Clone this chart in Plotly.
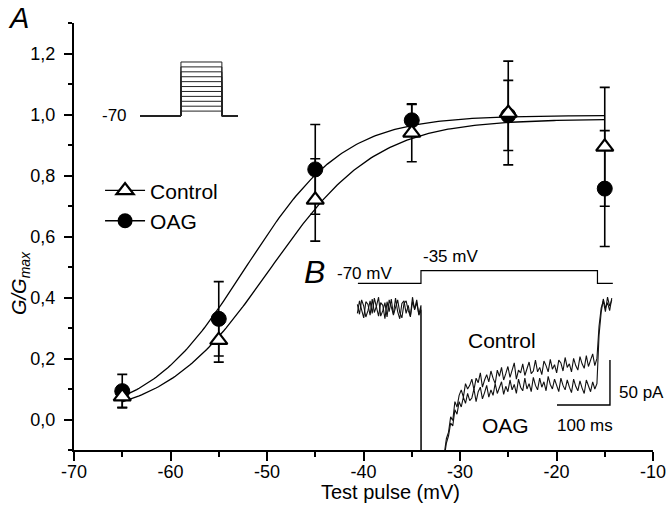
import numpy as np
import plotly.graph_objects as go

# ---------------- main panel A data ----------------
test_pulse = [-65, -55, -45, -35, -25, -15]
ctrl_g = [0.075, 0.26, 0.72, 0.94, 1.005, 0.894]
ctrl_err = [0.035, 0.072, 0.135, 0.095, 0.17, 0.195]
oag_g = [0.093, 0.33, 0.82, 0.981, 0.997, 0.757]
oag_err = [0.055, 0.122, 0.147, 0.052, 0.115, 0.19]

# Boltzmann fit parameters (V1/2 in mV, slope k in mV, Gmax)
ctrl_fit = dict(vhalf=-49.7, k=5.5, gmax=0.985)
oag_fit = dict(vhalf=-52.2, k=5.1, gmax=0.997)

x_ticks = [-70, -60, -50, -40, -30, -20, -10]
y_ticks = [0.0, 0.2, 0.4, 0.6, 0.8, 1.0, 1.2]

# ---------------- inset A: step protocol (mV) ----------------
holding_mv = -70
step_levels = [-65, -60, -55, -50, -45, -40, -35, -30, -25, -20, -15]
protoA_t = [-41, 0, 41, 57]  # pre start, pulse on, pulse off, end

# ---------------- inset B: current traces (ms, pA) ----------------
ctrl_pre = [4, -7, 9, 2, -10, -3, 8, -6, 11, -1, -9, 6, 3, -12, 7, -4, 10, -8, 1, 9,
            -5, -11, 5, 8, -3, -9, 12, -2, 6, -7, 3]
oag_pre = [-6, 8, -2, -11, 7, 4, -8, 10, -5, 2, 12, -9, -3, 6, -10, 9, 1, -7, 11, -4,
           -12, 5, 8, -6, 3, -10, 7, -1, 9, -8, -2]
trans_t = [0.5, 40]
trans_i = [-400, -400]
ctrl_pulse = [-162, -145, -138, -121, -125, -104, -110, -97, -91, -99, -84, -90, -86, -79,
              -91, -78, -83, -72, -88, -80, -74, -82, -70, -78, -84, -69, -76, -66, -80,
              -73, -65, -77, -70, -61, -79, -69, -72, -62, -75, -67, -60, -73, -70, -58,
              -71, -66, -74, -59, -64, -71, -57, -68, -63, -72, -58, -61, -70, -55, -66,
              -62, -71, -56, -64, -69, -54, -62, -67, -53, -65, -58, -51, -64, -56]
oag_pulse = [-166, -150, -142, -128, -131, -113, -118, -104, -110, -99, -106, -95, -103,
             -100, -90, -104, -93, -88, -101, -94, -86, -99, -91, -97, -84, -95, -89, -82,
             -96, -87, -93, -80, -91, -85, -95, -79, -88, -92, -78, -90, -84, -93, -77,
             -86, -91, -78, -88, -82, -92, -76, -85, -90, -79, -87, -93, -78, -86, -91,
             -80, -88, -94, -79, -87, -92, -81, -89, -95, -80, -86, -93, -82, -90, -84]
tail_t = [336, 340, 344, 348, 352, 356, 360]
ctrl_tail = [-20, 0, 8, -4, 12, 2, 9]
oag_tail = [-30, -5, 10, 0, 6, -3, 11]
sample_ms = 4
pre_start_ms = -120
pulse_start_ms = 44

protoB_t = [-119, 0, 333, 362]
protoB_mv = [-70, -35]

scale_t_ms = 100
scale_i_pa = 50
scale_corner = (356.6, -107.8)

FONT = "Liberation Sans, Arial, sans-serif"

fig = go.Figure()

# fit curves
v = np.linspace(-65, -15, 201)
for p in (oag_fit, ctrl_fit):
    g = p["gmax"] / (1 + np.exp((p["vhalf"] - v) / p["k"]))
    fig.add_trace(go.Scatter(x=v, y=g, mode="lines", line=dict(color="black", width=1.3),
                             showlegend=False, hoverinfo="skip"))

# data points
fig.add_trace(go.Scatter(
    x=test_pulse, y=oag_g, mode="markers", name="OAG", showlegend=False,
    marker=dict(symbol="circle", size=15, color="black", line=dict(color="black", width=1)),
    error_y=dict(type="data", array=oag_err, color="black", thickness=1.6, width=5)))
fig.add_trace(go.Scatter(
    x=test_pulse, y=ctrl_g, mode="markers", name="Control", showlegend=False,
    marker=dict(symbol="triangle-up", size=15, color="white", line=dict(color="black", width=2.2)),
    error_y=dict(type="data", array=ctrl_err, color="black", thickness=1.6, width=5)))

# legend entries
fig.add_trace(go.Scatter(x=[None], y=[None], mode="lines+markers", name="Control",
                         line=dict(color="black", width=1.3),
                         marker=dict(symbol="triangle-up", size=15, color="white",
                                     line=dict(color="black", width=2.2))))
fig.add_trace(go.Scatter(x=[None], y=[None], mode="lines+markers", name="OAG",
                         line=dict(color="black", width=1.3),
                         marker=dict(symbol="circle", size=15, color="black")))

# inset A protocol
xa, ya = [], []
for L in step_levels:
    xa += [protoA_t[0], protoA_t[1], protoA_t[1], protoA_t[2], protoA_t[2], protoA_t[3], None]
    ya += [holding_mv, holding_mv, L, L, holding_mv, holding_mv, None]
fig.add_trace(go.Scatter(x=xa, y=ya, mode="lines", line=dict(color="#222222", width=1),
                         xaxis="x3", yaxis="y4", showlegend=False, hoverinfo="skip"))

# inset B current traces
for pre, pulse, tail in ((oag_pre, oag_pulse, oag_tail), (ctrl_pre, ctrl_pulse, ctrl_tail)):
    pre_t = [pre_start_ms + sample_ms * i for i in range(len(pre))]
    pulse_t = [pulse_start_ms + sample_ms * i for i in range(len(pulse))]
    tt = pre_t + trans_t + pulse_t + tail_t
    ii = pre + trans_i + pulse + tail
    fig.add_trace(go.Scatter(x=tt, y=ii, mode="lines", line=dict(color="#111111", width=1.1),
                             xaxis="x2", yaxis="y2", showlegend=False, hoverinfo="skip"))

# inset B voltage protocol
fig.add_trace(go.Scatter(
    x=[protoB_t[0], protoB_t[1], protoB_t[1], protoB_t[2], protoB_t[2], protoB_t[3]],
    y=[protoB_mv[0], protoB_mv[0], protoB_mv[1], protoB_mv[1], protoB_mv[0], protoB_mv[0]],
    mode="lines", line=dict(color="black", width=1.2), xaxis="x2", yaxis="y3",
    showlegend=False, hoverinfo="skip"))

# scale bars
cx, cy = scale_corner
fig.add_trace(go.Scatter(x=[cx - scale_t_ms, cx, cx], y=[cy, cy, cy + scale_i_pa], mode="lines",
                         line=dict(color="black", width=1.4), xaxis="x2", yaxis="y2",
                         showlegend=False, hoverinfo="skip"))

tick_font = dict(family=FONT, size=18, color="black")

fig.update_layout(
    width=671, height=518,
    margin=dict(l=74, r=18, t=23, b=68),
    paper_bgcolor="white", plot_bgcolor="white",
    separators=",.",
    font=dict(family=FONT, color="black"),
    showlegend=True,
    legend=dict(x=0.045, y=0.655, xanchor="left", yanchor="top", bgcolor="rgba(0,0,0,0)",
                font=dict(family=FONT, size=21), tracegroupgap=0, itemwidth=40),
    xaxis=dict(range=[-70, -10], tickvals=x_ticks, ticktext=[str(t) for t in x_ticks],
               showline=True, linecolor="black", linewidth=2, ticks="outside", ticklen=9,
               tickwidth=2, tickcolor="black", showgrid=False, zeroline=False,
               tickfont=tick_font, automargin=False, ticklabelstandoff=-5,
               minor=dict(dtick=5, tick0=-70, ticks="outside", ticklen=5, tickwidth=2,
                          tickcolor="black", showgrid=False)),
    yaxis=dict(range=[-0.1, 1.3], tickvals=y_ticks, tickformat=".1f",
               showline=True, linecolor="black", linewidth=2, ticks="outside", ticklen=8,
               tickwidth=2, tickcolor="black", showgrid=False, zeroline=False,
               tickfont=tick_font, automargin=False, ticklabelstandoff=5,
               minor=dict(dtick=0.1, tick0=0, ticks="outside", ticklen=4, tickwidth=2,
                          tickcolor="black", showgrid=False)),
    xaxis2=dict(domain=[0.4594, 1.0], range=[-152.8, 437.8], anchor="y2", visible=False),
    yaxis2=dict(domain=[0.0, 0.4567], range=[-157.8, 58.9], anchor="x2", visible=False),
    yaxis3=dict(domain=[0.3747, 0.4403], range=[-88.6, -10.8], anchor="x2", visible=False),
    xaxis3=dict(domain=[0.114, 0.283], range=[-41, 57], anchor="y4", visible=False),
    yaxis4=dict(domain=[0.761, 0.925], range=[-79.2, -7.9], anchor="x3", visible=False),
)

def ann(text, x, y, size, italic=False, xanchor="center", angle=0):
    fig.add_annotation(text=f"<i>{text}</i>" if italic else text, x=x, y=y, xref="paper",
                       yref="paper", xanchor=xanchor, yanchor="middle", showarrow=False,
                       textangle=angle, font=dict(family=FONT, size=size, color="black"))

ann("A", -0.0967, 1.0117, 29, italic=True)
ann("G/G<sub>max</sub>", -0.0933, 0.391, 20, italic=True, angle=-90)
ann("Test pulse (mV)", 0.5458, -0.0984, 20)
ann("-70", 0.0708, 0.7845, 17)
ann("B", 0.4155, 0.4169, 32, italic=True)
ann("-70 mV", 0.5009, 0.4145, 17)
ann("-35 mV", 0.6511, 0.452, 17)
ann("Control", 0.7392, 0.2553, 21)
ann("OAG", 0.7444, 0.0585, 21)
ann("100 ms", 0.8826, 0.0585, 17)
ann("50 pA", 0.981, 0.1358, 17)

# remove the default 8px page margin so the 671x518 figure fills the window exactly
fig.write_html("out.html", config={"displayModeBar": False},
               post_script="document.body.style.margin='0';document.body.style.overflow='hidden';")
